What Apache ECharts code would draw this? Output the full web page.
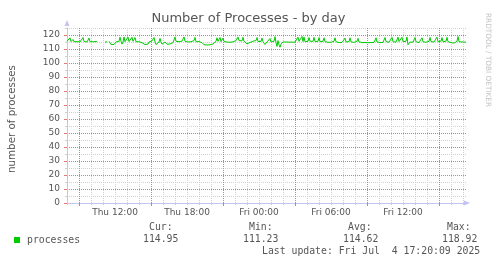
<!DOCTYPE html>
<html><head><meta charset="utf-8">
<script src="https://cdn.jsdelivr.net/npm/echarts@6/dist/echarts.min.js"></script>
<style>html,body{margin:0;padding:0;background:#fff}#c{width:497px;height:264px}</style>
</head><body><div id="c"></div>
<script>
// time axis in hours since Thu 00:00
const startHour = 8;
const endHour = 8 + 400 * 5 / 60;
const stepMinutes = 5;
const processes = [
115.5,115,115.2,118,115.3,115,116.8,115.2,114.8,115,
115.3,115,114.8,115,115.1,115.5,118.2,115.4,115,114.8,
115,115.2,117.8,115.2,114.9,115,115.2,115,115.1,115.3,
115.2,null,null,null,null,null,null,null,115,115.1,
115,null,115.5,114.5,113.2,113,113.5,113.2,114.5,115,
114.8,115.2,115.5,118.5,115.5,113.5,115,118.6,115.2,115,
115.5,118.5,115.3,115,115.2,118.4,115.5,115.3,118.2,115.2,
115,115,115.2,114.8,114.6,114.5,113.5,113.2,113.2,113.3,
113.2,113.5,115,115.3,115.5,115.8,116,118.2,115,113.2,
113,113.4,115,117.6,115,113.5,113.2,113.4,115,113.6,
113.4,113.5,113.3,113.6,113.4,113.5,114.5,115,118.5,115.5,
114.8,115.8,115.2,115,115.2,115.6,116,118.6,115.5,115,
114.8,115,115.2,115.5,115.2,115,115.8,116,118.3,115.2,
114.8,115,115.3,115,114.6,114.5,113.5,113,112.8,113,
112.9,113,112.8,113,113.2,113,113.6,114.5,115,115.5,
118,115.5,115.8,118.2,115.3,115,117.8,115.3,115,114.6,
115,115.2,115,114.8,115,115.3,115.1,115.2,115.5,116,
116.5,118.6,116,115.5,115.2,115.8,118.4,115.5,114.8,114.2,
113.8,114.5,115,114.6,114.2,115,115.6,115.3,115,116,
118.2,115.3,114.5,115,115.5,117.8,115.2,114.5,113.2,113.5,
115,114.8,115.5,117.5,115,114.5,114,115.5,118.8,114.5,
111.8,116,113,111.23,113.5,114.8,115,114.8,114.9,115,
114.8,114.7,114.9,115,114.8,114.9,115,114.8,114.9,115,
115.5,118.5,115.5,115,116,118.92,115.3,118.6,115.2,114.8,
115,115.5,118.2,115.5,114.8,115,115.5,118.3,115.3,114.8,
115,115.5,118.2,115.2,114.8,115,115.5,118,115.2,114.8,
114.7,114.8,114.7,114.8,114.8,114.7,115,115.5,118,115.2,
114.7,114.8,114.6,114.8,114.7,114.6,114.8,115.3,117.8,115,
114.7,114.9,115.3,118,115.1,114.7,114.8,114.7,114.8,115.2,
115.5,117.6,115,114.7,114.6,114.7,114.6,114.5,114.6,114.7,
114.6,114.5,114.6,114.7,114.6,114.5,114.6,114.7,115,118,
115,114.6,114.7,114.6,114.5,114.6,114.7,115.3,118.2,115.3,
114.8,114.7,114.8,115,115.6,118.3,115.2,114.8,114.7,114.9,
115.5,118.5,115.3,115,115.6,118.4,115.2,114.8,115,115.5,
118.6,113,114.2,115,114.8,114.7,114.9,115.5,118.2,115.2,
114.7,114.8,114.6,114.8,115.5,118,115.2,114.7,114.6,114.8,
114.6,114.7,115.5,118.3,115.3,114.8,114.7,114.9,115,115.6,
118.5,115.2,114.8,114.9,115.6,118.2,115.2,114.8,114.9,115.6,
118.3,115.2,114.8,114.7,114.6,114.2,113.6,114.2,114.7,114.9,
115.5,118.9,115.2,114.8,114.9,115,114.9,115,114.9,114.95
];
const xLabelHours = [12, 18, 24, 30, 36];
const xLabelTexts = ['Thu 12:00', 'Thu 18:00', 'Fri 00:00', 'Fri 06:00', 'Fri 12:00'];
const xMajorHours = [9, 15, 21, 27, 33, 39];
const xMinorHours = [8,10,11,12,13,14,16,17,18,19,20,22,23,24,25,26,28,29,30,31,32,34,35,36,37,38,40,41];
const yMax = 125;
const yLabelValues = [0,10,20,30,40,50,60,70,80,90,100,110,120];
const yMinorValues = [5,15,25,35,45,55,65,75,85,95,105,115,125];
const statNames = ['Cur:', 'Min:', 'Avg:', 'Max:'];
const statValues = ['114.95', '111.23', '114.62', '118.92'];
const seriesName = 'processes';
const lastUpdate = 'Last update: Fri Jul  4 17:20:09 2025';

const seriesData = processes.map((v, i) => [startHour + i * stepMinutes / 60, v]);

const axisColor = '#c4c4f0';
const minorColor = '#d0d0d0';
const majorColor = '#e87474';
const textColor = '#555';
const sans = 'DejaVu Sans';
const monoFont = '9.8px "DejaVu Sans Mono"';

const chart = echarts.init(document.getElementById('c'), null, {renderer: 'canvas'});

const statX = [149, 249, 348, 447];
const valX = [143, 243, 343, 442];
const graphics = [
  {type: 'text', position: [248.5, 19], style: {text: 'Number of Processes - by day', fill: textColor, font: '13px "DejaVu Sans"', textAlign: 'center', textVerticalAlign: 'middle'}},
  {type: 'text', position: [12.5, 119], rotation: Math.PI / 2, style: {text: 'number of processes', fill: textColor, font: '10.3px "DejaVu Sans"', textAlign: 'center', textVerticalAlign: 'middle'}},
  {type: 'text', position: [487.5, 60], rotation: -Math.PI / 2, style: {text: 'RRDTOOL / TOBI OETIKER', fill: '#c4c4c4', font: '7.3px "DejaVu Sans"', textAlign: 'center', textVerticalAlign: 'middle'}},
  {type: 'rect', shape: {x: 14, y: 237, width: 6, height: 6}, style: {fill: '#00cc00'}},
  {type: 'text', position: [27, 240], style: {text: seriesName, fill: textColor, font: monoFont, textAlign: 'left', textVerticalAlign: 'middle'}},
  {type: 'text', position: [262, 251.7], style: {text: lastUpdate, fill: textColor, font: monoFont, textAlign: 'left', textVerticalAlign: 'middle'}}
];
statNames.forEach((n, i) => {
  graphics.push({type: 'text', position: [statX[i], 227.3], style: {text: n, fill: textColor, font: monoFont, textAlign: 'left', textVerticalAlign: 'middle'}});
  graphics.push({type: 'text', position: [valX[i], 239.5], style: {text: statValues[i], fill: textColor, font: monoFont, textAlign: 'left', textVerticalAlign: 'middle'}});
});

chart.setOption({
  animation: false,
  backgroundColor: '#fff',
  grid: {left: 67, top: 28, width: 400, height: 175, containLabel: false},
  xAxis: [
    {type: 'value', min: startHour, max: endHour, position: 'bottom', z: 1,
     axisLine: {show: false},
     axisTick: {show: true, customValues: xMinorHours, length: 2, lineStyle: {color: minorColor}},
     axisLabel: {show: false},
     splitLine: {show: true, lineStyle: {color: minorColor, type: 'dotted', width: 1}}},
    {type: 'value', min: startHour, max: endHour, position: 'bottom', z: 2,
     axisLine: {show: true, lineStyle: {color: axisColor, width: 1}, symbol: ['none', 'triangle'], symbolSize: [5, 6], symbolOffset: [0, 0]},
     axisTick: {show: true, customValues: xMajorHours, length: 3, lineStyle: {color: majorColor}},
     axisLabel: {show: true, customValues: xLabelHours, margin: 5, fontSize: 9, fontFamily: sans, color: textColor,
       formatter: v => { const k = xLabelHours.indexOf(Math.round(v)); return k >= 0 ? xLabelTexts[k] : ''; }},
     splitLine: {show: true, lineStyle: {color: majorColor, type: 'dotted', width: 1}}}
  ],
  yAxis: [
    {type: 'value', min: 0, max: yMax, position: 'left', z: 1,
     axisLine: {show: false},
     axisTick: {show: true, customValues: yMinorValues, length: 2, lineStyle: {color: minorColor}},
     axisLabel: {show: false},
     splitLine: {show: true, lineStyle: {color: minorColor, type: 'dotted', width: 1}}},
    {type: 'value', min: 0, max: yMax, position: 'left', z: 2,
     axisLine: {show: true, lineStyle: {color: axisColor, width: 1}, symbol: ['none', 'triangle'], symbolSize: [5, 6], symbolOffset: [0, 5]},
     axisTick: {show: true, customValues: yLabelValues, length: 3, lineStyle: {color: majorColor}},
     axisLabel: {show: true, customValues: yLabelValues, margin: 7, fontSize: 9, fontFamily: sans, color: textColor},
     splitLine: {show: true, lineStyle: {color: majorColor, type: 'dotted', width: 1}}}
  ],
  series: [{
    name: seriesName, type: 'line', xAxisIndex: 0, yAxisIndex: 0,
    data: seriesData, showSymbol: false, connectNulls: false, z: 5,
    lineStyle: {color: '#00cc00', width: 1}, itemStyle: {color: '#00cc00'}
  }],
  graphic: graphics
});
</script></body></html>
